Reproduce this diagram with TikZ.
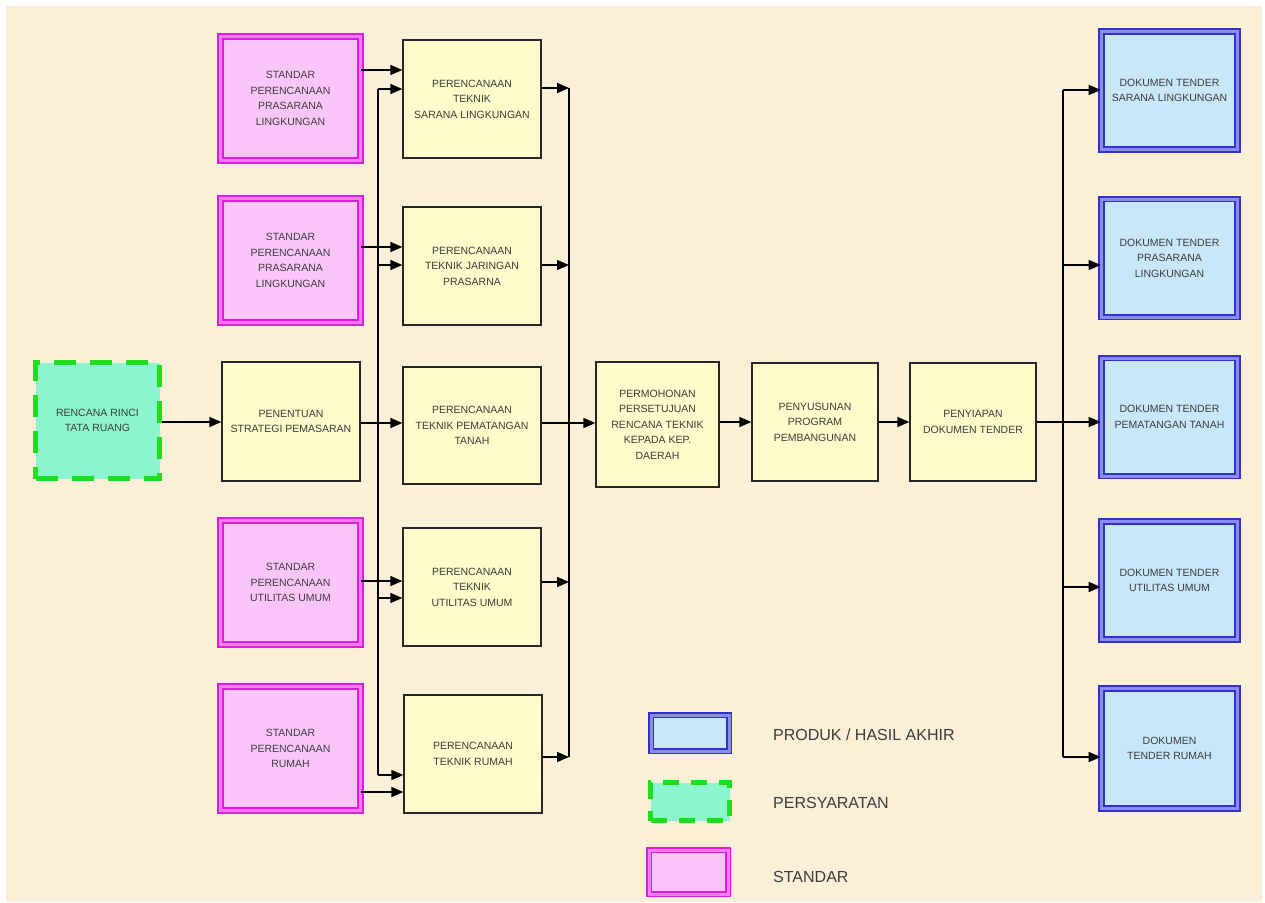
\documentclass[tikz,border=0pt]{standalone}
\usepackage{fontspec}
\setmainfont{Liberation Sans}
\usetikzlibrary{arrows.meta}

\definecolor{bgbeige}{RGB}{250,239,215}
\definecolor{procfill}{RGB}{253,251,202}
\definecolor{stdline}{RGB}{218,30,218}
\definecolor{stdband}{RGB}{240,125,240}
\definecolor{stdfill}{RGB}{250,198,250}
\definecolor{dokline}{RGB}{50,50,200}
\definecolor{dokband}{RGB}{140,140,240}
\definecolor{dokfill}{RGB}{200,232,250}
\definecolor{reqfill}{RGB}{140,245,205}
\definecolor{reqline}{RGB}{30,222,30}
\definecolor{txt}{RGB}{60,60,60}

\tikzset{
  box/.style={rectangle, align=center, font=\fontsize{10.5}{15.5}\selectfont,
    text=txt, inner sep=2pt},
  proc/.style={box, draw=black!85, line width=1.3pt, fill=procfill,
    minimum width=138pt, minimum height=118pt},
  stdbox/.style={box, draw=stdline, double=stdband, double distance=3pt,
    line width=1.8pt, fill=stdfill, minimum width=140pt, minimum height=124pt},
  dokbox/.style={box, draw=dokline, double=dokband, double distance=3pt,
    line width=1.6pt, fill=dokfill, minimum width=136pt, minimum height=118pt},
  reqbox/.style={box, draw=reqline, line width=5.5pt, dash pattern=on 22pt off 14pt,
    fill=reqfill, minimum width=124pt, minimum height=116pt},
  arr/.style={-{Triangle[length=12pt,width=10pt]}, line width=1.4pt, draw=black},
  busline/.style={line width=1.4pt, draw=black},
  legtext/.style={anchor=west, font=\fontsize{16}{19}\selectfont, text=txt, inner sep=0pt}
}

\begin{document}
\begin{tikzpicture}[x=1pt,y=-1pt]
  % page and background
  \fill[white] (0,0) rectangle (1265,902);
  \fill[bgbeige] (6,6) rectangle (1262,902);
  \useasboundingbox (0,0) rectangle (1265,902);

  % requirement
  \node[reqbox] (rrtr) at (97.5,420.5) {RENCANA RINCI\\TATA RUANG};

  % standards
  \node[stdbox] (std1) at (290.5,98.5) {STANDAR\\PERENCANAAN\\PRASARANA\\LINGKUNGAN};
  \node[stdbox] (std2) at (290.5,260.5) {STANDAR\\PERENCANAAN\\PRASARANA\\LINGKUNGAN};
  \node[stdbox] (std3) at (290.5,582.5) {STANDAR\\PERENCANAAN\\UTILITAS UMUM};
  \node[stdbox] (std4) at (290.5,748.5) {STANDAR\\PERENCANAAN\\RUMAH};

  % process steps
  \node[proc, minimum height=119pt] (pen) at (291,421.5) {PENENTUAN\\STRATEGI PEMASARAN};
  \node[proc] (tek1) at (472,99) {PERENCANAAN\\TEKNIK\\SARANA LINGKUNGAN};
  \node[proc] (tek2) at (472,266) {PERENCANAAN\\TEKNIK JARINGAN\\PRASARNA};
  \node[proc, minimum height=117pt] (tek3) at (472,425.5) {PERENCANAAN\\TEKNIK PEMATANGAN\\TANAH};
  \node[proc] (tek4) at (472,587) {PERENCANAAN\\TEKNIK\\UTILITAS UMUM};
  \node[proc] (tek5) at (473,754) {PERENCANAAN\\TEKNIK RUMAH};
  \node[proc, minimum width=123pt, minimum height=125pt] (perm) at (657.5,424.5)
    {PERMOHONAN\\PERSETUJUAN\\RENCANA TEKNIK\\KEPADA KEP.\\DAERAH};
  \node[proc, minimum width=126pt] (peny) at (815,422) {PENYUSUNAN\\PROGRAM\\PEMBANGUNAN};
  \node[proc, minimum width=126pt] (penyi) at (973,422) {PENYIAPAN\\DOKUMEN TENDER};

  % products
  \node[dokbox] (dok1) at (1169.5,90.5) {DOKUMEN TENDER\\SARANA LINGKUNGAN};
  \node[dokbox] (dok2) at (1169.5,258) {DOKUMEN TENDER\\PRASARANA\\LINGKUNGAN};
  \node[dokbox] (dok3) at (1169.5,417) {DOKUMEN TENDER\\PEMATANGAN TANAH};
  \node[dokbox] (dok4) at (1169.5,580.5) {DOKUMEN TENDER\\UTILITAS UMUM};
  \node[dokbox, minimum height=120pt] (dok5) at (1169.5,748.5) {DOKUMEN\\TENDER RUMAH};

  % bus lines
  \coordinate (lbT) at (378,89);
  \coordinate (lbB) at (378,775);
  \coordinate (rbT) at (569,88);
  \coordinate (rbB) at (569,757);
  \coordinate (obT) at (1063,90);
  \coordinate (obB) at (1063,757);
  \draw[busline] (lbT) -- (lbB);
  \draw[busline] (rbT) -- (rbB);
  \draw[busline] (obT) -- (obB);

  % main flow
  \draw[arr] (rrtr.east |- 0,422) -- (pen.west |- 0,422);
  \draw[arr] (pen.east |- 0,423) -- (tek3.west |- 0,423);
  \draw[arr] (tek3.east |- 0,423) -- (perm.west |- 0,423);
  \draw[arr] (perm.east |- 0,422) -- (peny.west |- 0,422);
  \draw[arr] (peny.east |- 0,422) -- (penyi.west |- 0,422);
  \draw[arr] (penyi.east |- 0,422) -- (dok3.west |- 0,422);

  % standards into planning
  \draw[arr] (std1.east |- 0,70) -- (tek1.west |- 0,70);
  \draw[arr] (std2.east |- 0,247) -- (tek2.west |- 0,247);
  \draw[arr] (std3.east |- 0,581) -- (tek4.west |- 0,581);
  \draw[arr] (std4.east |- 0,792) -- (tek5.west |- 0,792);

  % distribution bus into planning
  \draw[arr] (lbT) -- (tek1.west |- lbT);
  \draw[arr] (lbT |- 0,265) -- (tek2.west |- 0,265);
  \draw[arr] (lbT |- 0,598) -- (tek4.west |- 0,598);
  \draw[arr] (lbB) -- (tek5.west |- lbB);

  % planning into collecting bus
  \draw[arr] (tek1.east |- rbT) -- (rbT);
  \draw[arr] (tek2.east |- 0,265) -- (rbT |- 0,265);
  \draw[arr] (tek4.east |- 0,582) -- (rbT |- 0,582);
  \draw[arr] (tek5.east |- rbB) -- (rbB);

  % tender documents
  \draw[arr] (obT) -- (dok1.west |- obT);
  \draw[arr] (obT |- 0,265) -- (dok2.west |- 0,265);
  \draw[arr] (obT |- 0,587) -- (dok4.west |- 0,587);
  \draw[arr] (obB) -- (dok5.west |- obB);

  % legend
  \node[dokbox, minimum width=78pt, minimum height=36pt] (legdok) at (690,733) {};
  \node[reqbox, minimum width=79pt, minimum height=38pt, dash pattern=on 16pt off 12pt] (legreq) at (690,801.5) {};
  \node[stdbox, minimum width=79pt, minimum height=44pt] (legstd) at (688.5,872) {};
  \node[legtext] (legdoktxt) at (773,735) {PRODUK / HASIL AKHIR};
  \node[legtext] (legreqtxt) at (773,803) {PERSYARATAN};
  \node[legtext] (legstdtxt) at (773,877) {STANDAR};
\end{tikzpicture}
\end{document}
